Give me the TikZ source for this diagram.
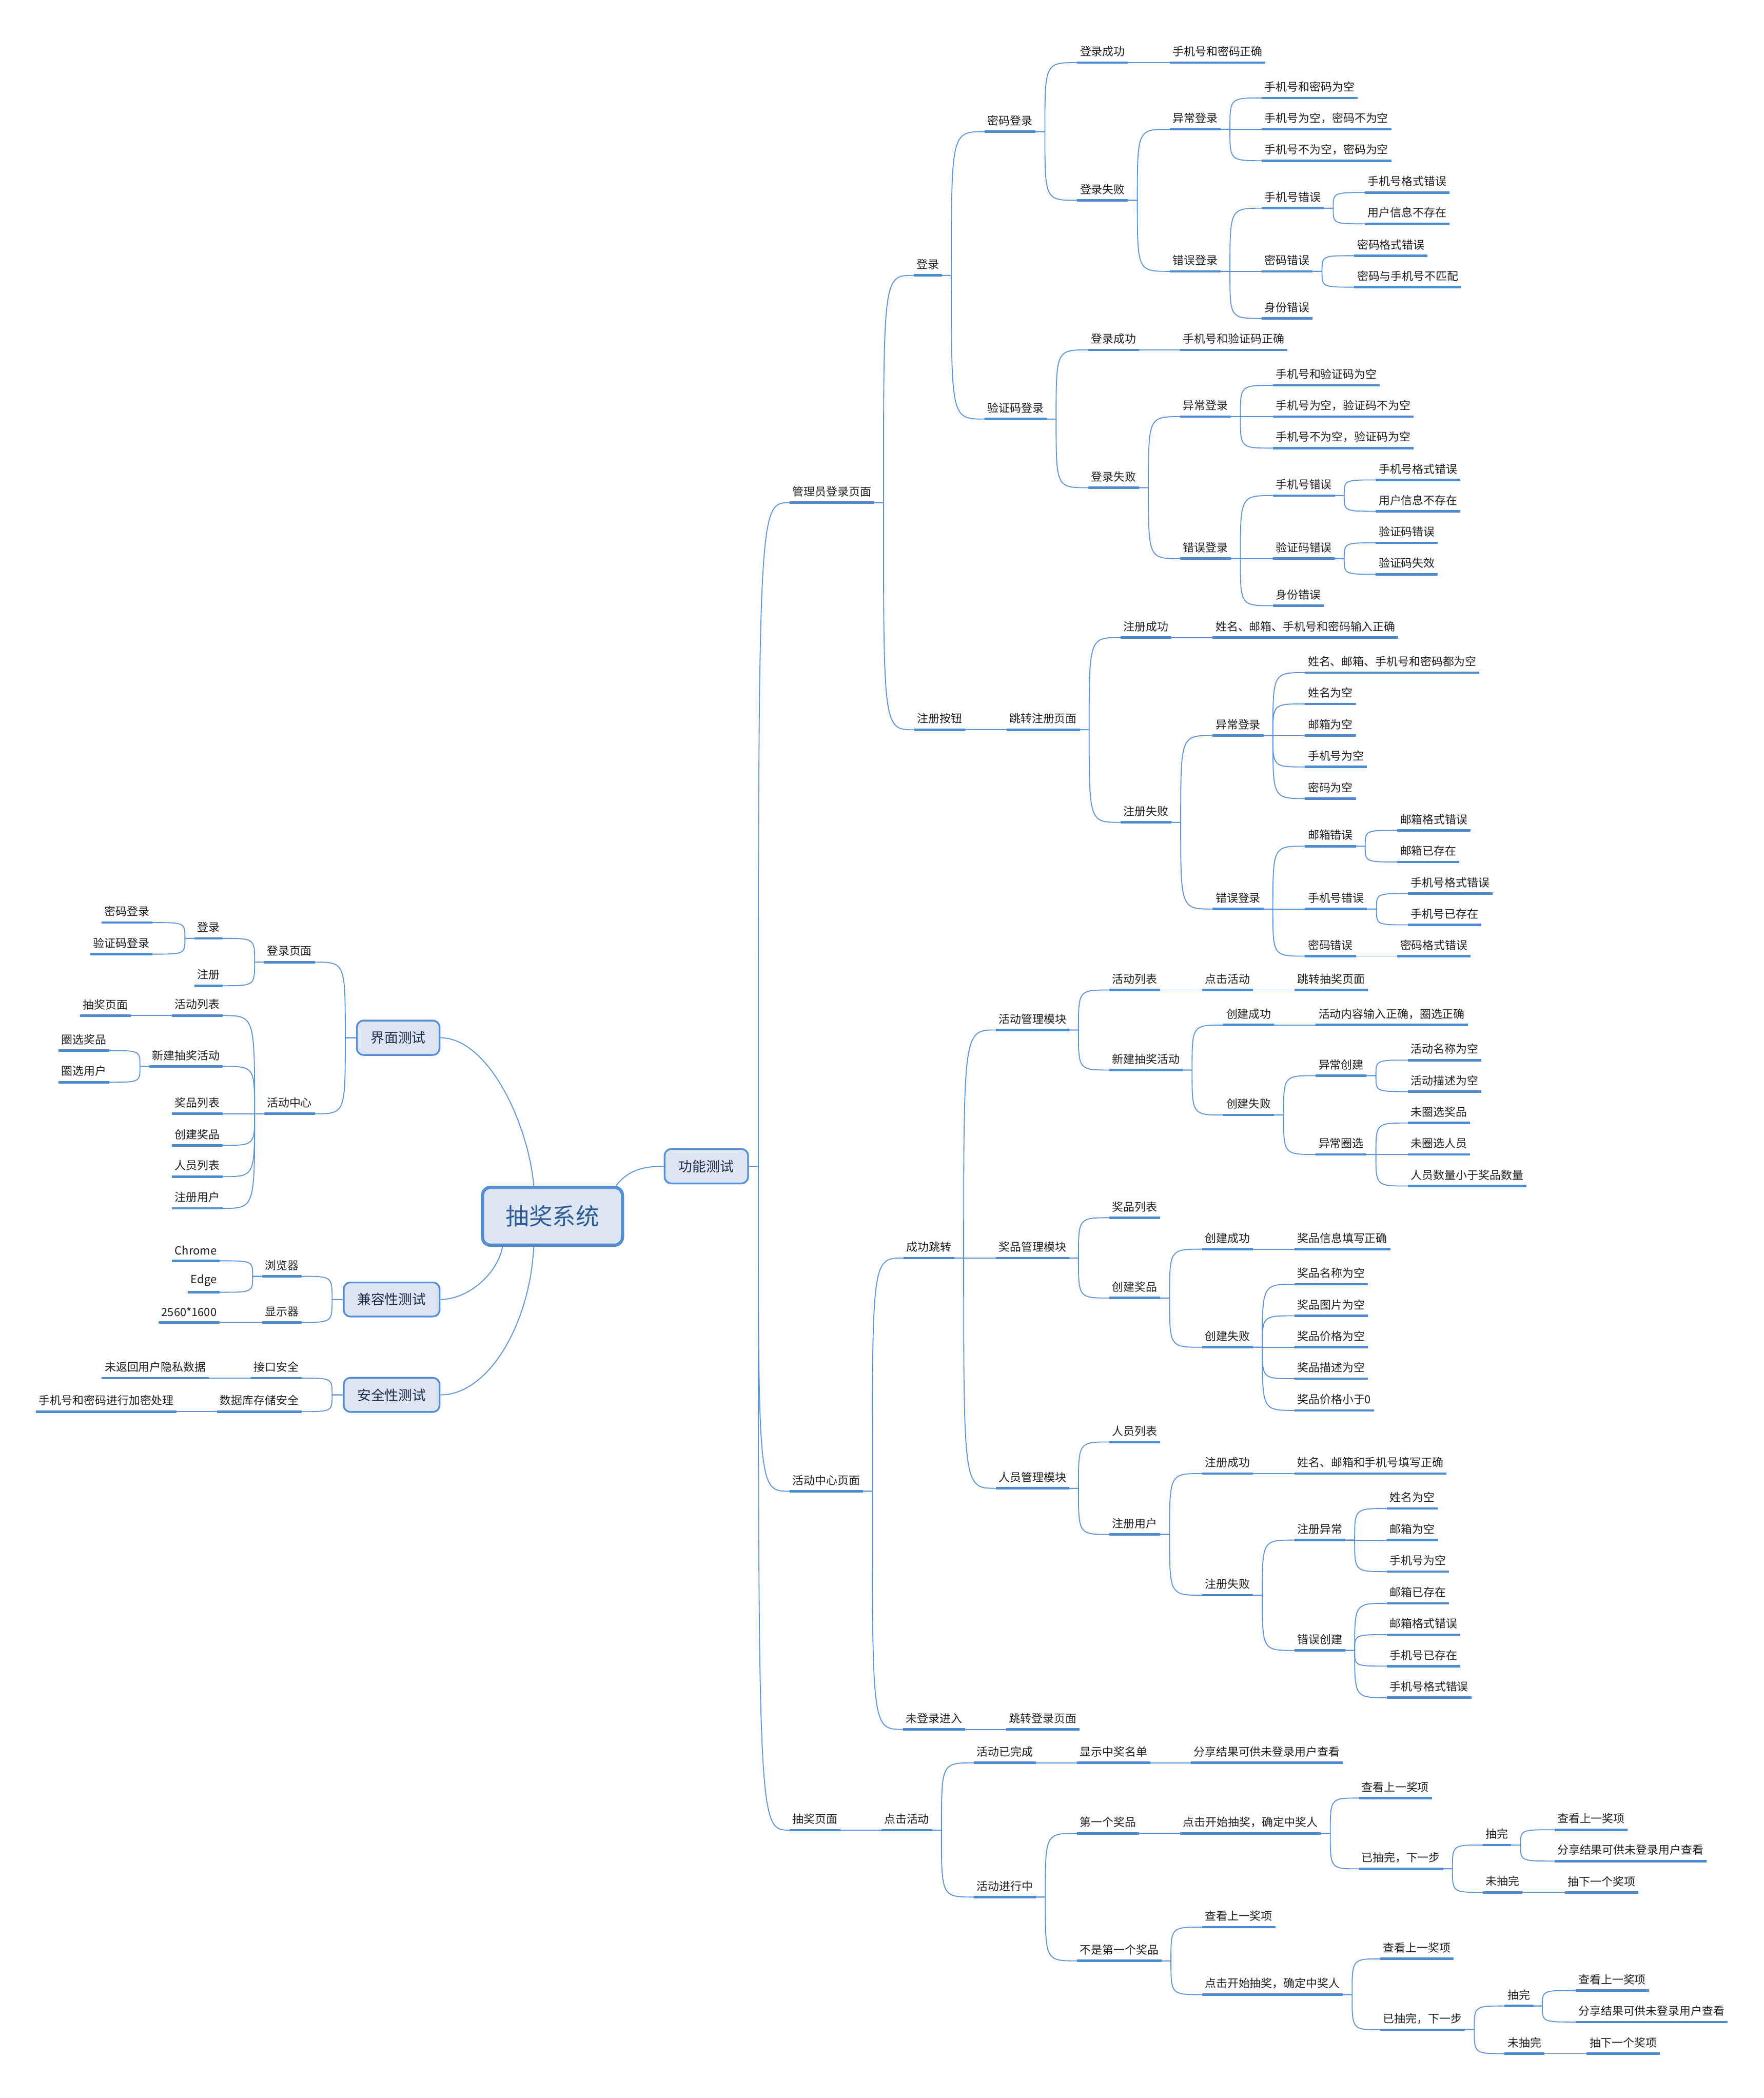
\documentclass[tikz,border=0pt]{standalone}
\usepackage{fontspec}
\setmainfont{Noto Sans CJK SC}
\definecolor{ulc}{RGB}{77,138,212}
\definecolor{lnc}{RGB}{92,146,216}
\definecolor{bxc}{RGB}{86,142,212}
\definecolor{bxf}{RGB}{220,230,242}
\definecolor{bxt}{RGB}{32,44,74}
\definecolor{roott}{RGB}{48,92,150}
\definecolor{txtc}{RGB}{30,30,30}
\tikzset{
  ulst/.style={draw=ulc, line width=1.8pt},
  tp/.style={font=\fontsize{8.4}{10}\selectfont, text=txtc, inner xsep=2pt, inner ysep=4.2pt,
    append after command={(\tikzlastnode.south west) edge[ulst] (\tikzlastnode.south east)}},
  cl/.style={draw=lnc, line width=0.7pt},
  bx/.style={draw=bxc, fill=bxf, rounded corners=5pt, line width=1.3pt, text=bxt,
    font=\fontsize{10.3}{12}\selectfont, inner sep=0pt},
}
\newcommand\rnd[4]{\node[tp,anchor=south west] (#1) at (#2,#3) {#4};}
\newcommand\lnd[4]{\node[tp,anchor=south east] (#1) at (#2,#3) {#4};}
\newcommand\rcon[2]{\draw[cl] (#1.south east) -- ++(7,0) coordinate (j) .. controls (j |- #2.south west) .. (#2.south west);}
\newcommand\lcon[2]{\draw[cl] (#1.south west) -- ++(-7,0) coordinate (j) .. controls (j |- #2.south east) .. (#2.south east);}
\begin{document}
\begin{tikzpicture}[x=1pt,y=-1pt]
\fill[white] (0,0) rectangle (1318,1568);
\useasboundingbox (0,0) rectangle (1318,1568);

% boxes
\node[bx, line width=2.4pt, minimum width=104.6pt, minimum height=43.2pt, rounded corners=6pt,
  font=\fontsize{17.5}{20}\selectfont, text=roott] (root) at (412.9,909) {抽奖系统};
\node[bx, minimum width=62.4pt, minimum height=25.8pt] (F) at (527.9,871.6) {功能测试};
\node[bx, minimum width=61.8pt, minimum height=25.7pt] (I) at (297.6,775.6) {界面测试};
\node[bx, minimum width=71.7pt, minimum height=25.5pt] (C) at (292.7,971.2) {兼容性测试};
\node[bx, minimum width=71.7pt, minimum height=25.5pt] (S) at (292.7,1042.5) {安全性测试};

% ===== right tree =====
\rnd{m1}{590.1}{375.7}{管理员登录页面}
\rnd{m2}{590.1}{1114.5}{活动中心页面}
\rnd{m3}{590.1}{1367.8}{抽奖页面}

\rnd{a1}{682.8}{205.8}{登录}
\rnd{a2}{683.2}{545.4}{注册按钮}
\rnd{b1}{735.9}{98.4}{密码登录}
\rnd{b2}{735.9}{313.2}{验证码登录}
\rnd{c1}{805}{46.8}{登录成功}
\rnd{c2}{805}{149.7}{登录失败}
\rnd{d1}{874.2}{46.8}{手机号和密码正确}
\rnd{d2}{874.2}{96.6}{异常登录}
\rnd{d3}{874.2}{202.8}{错误登录}
\rnd{e1}{943}{73.2}{手机号和密码为空}
\rnd{e2}{943}{96.6}{手机号为空，密码不为空}
\rnd{e3}{943}{120.1}{手机号不为空，密码为空}
\rnd{e4}{943}{155.6}{手机号错误}
\rnd{e5}{943}{202.8}{密码错误}
\rnd{e6}{943}{238.0}{身份错误}
\rnd{f1}{1020}{143.9}{手机号格式错误}
\rnd{f2}{1020}{167.3}{用户信息不存在}
\rnd{f3}{1012.1}{191.1}{密码格式错误}
\rnd{f4}{1012.1}{214.6}{密码与手机号不匹配}

\rnd{g1}{813.3}{261.5}{登录成功}
\rnd{g2}{813.3}{364.5}{登录失败}
\rnd{h1}{882}{261.5}{手机号和验证码正确}
\rnd{h2}{882}{311.4}{异常登录}
\rnd{h3}{882}{417.5}{错误登录}
\rnd{i1}{951.2}{288.0}{手机号和验证码为空}
\rnd{i2}{951.2}{311.4}{手机号为空，验证码不为空}
\rnd{i3}{951.2}{334.9}{手机号不为空，验证码为空}
\rnd{i4}{951.2}{370.4}{手机号错误}
\rnd{i5}{951.2}{417.5}{验证码错误}
\rnd{i6}{951.2}{452.7}{身份错误}
\rnd{k1}{1028.2}{358.7}{手机号格式错误}
\rnd{k2}{1028.2}{382.1}{用户信息不存在}
\rnd{k3}{1028.2}{405.7}{验证码错误}
\rnd{k4}{1028.2}{429.2}{验证码失效}

\rnd{r0}{752.2}{545.4}{跳转注册页面}
\rnd{r1}{837.4}{476.5}{注册成功}
\rnd{r2}{837.4}{614.6}{注册失败}
\rnd{r3}{906.3}{476.5}{姓名、邮箱、手机号和密码输入正确}
\rnd{r4}{906.3}{549.7}{异常登录}
\rnd{r5}{906.3}{679.4}{错误登录}
\rnd{s1}{975.3}{502.7}{姓名、邮箱、手机号和密码都为空}
\rnd{s2}{975.3}{526.1}{姓名为空}
\rnd{s3}{975.3}{549.7}{邮箱为空}
\rnd{s4}{975.3}{573.2}{手机号为空}
\rnd{s5}{975.3}{596.8}{密码为空}
\rnd{s6}{975.3}{632.4}{邮箱错误}
\rnd{s7}{975.3}{679.4}{手机号错误}
\rnd{s8}{975.3}{714.6}{密码错误}
\rnd{t1}{1044.3}{620.6}{邮箱格式错误}
\rnd{t2}{1044.3}{644.2}{邮箱已存在}
\rnd{t3}{1052.3}{667.8}{手机号格式错误}
\rnd{t4}{1052.3}{691.2}{手机号已存在}
\rnd{t5}{1044.3}{714.6}{密码格式错误}

\rnd{n1}{675.2}{940.2}{成功跳转}
\rnd{n2}{674.9}{1292.5}{未登录进入}
\rnd{n3}{752}{1292.5}{跳转登录页面}
\rnd{o1}{744.2}{769.8}{活动管理模块}
\rnd{o2}{744.2}{940.2}{奖品管理模块}
\rnd{o3}{744.2}{1112.3}{人员管理模块}
\rnd{p1}{829.1}{739.9}{活动列表}
\rnd{p2}{829.1}{799.7}{新建抽奖活动}
\rnd{p3}{898.4}{739.9}{点击活动}
\rnd{p4}{967.4}{739.9}{跳转抽奖页面}
\rnd{q1}{914.3}{766.1}{创建成功}
\rnd{q2}{914.3}{833.3}{创建失败}
\rnd{q3}{983.3}{766.1}{活动内容输入正确，圈选正确}
\rnd{q4}{983.3}{803.9}{异常创建}
\rnd{q5}{983.3}{862.8}{异常圈选}
\rnd{u1}{1052.3}{792.3}{活动名称为空}
\rnd{u2}{1052.3}{815.8}{活动描述为空}
\rnd{u3}{1052.3}{839.3}{未圈选奖品}
\rnd{u4}{1052.3}{862.8}{未圈选人员}
\rnd{u5}{1052.3}{886.4}{人员数量小于奖品数量}

\rnd{v1}{829.1}{910.1}{奖品列表}
\rnd{v2}{829.1}{970.1}{创建奖品}
\rnd{v3}{898.4}{933.6}{创建成功}
\rnd{v4}{898.4}{1006.9}{创建失败}
\rnd{v5}{967.4}{933.6}{奖品信息填写正确}
\rnd{w1}{967.4}{959.8}{奖品名称为空}
\rnd{w2}{967.4}{983.4}{奖品图片为空}
\rnd{w3}{967.4}{1006.9}{奖品价格为空}
\rnd{w4}{967.4}{1030.4}{奖品描述为空}
\rnd{w5}{967.4}{1054.1}{奖品价格小于0}

\rnd{x1}{829.1}{1077.7}{人员列表}
\rnd{x2}{829.1}{1146.8}{注册用户}
\rnd{x3}{898.4}{1101.3}{注册成功}
\rnd{x4}{898.4}{1192.2}{注册失败}
\rnd{x5}{967.4}{1101.3}{姓名、邮箱和手机号填写正确}
\rnd{y1}{967.4}{1151.0}{注册异常}
\rnd{y2}{967.4}{1233.5}{错误创建}
\rnd{z1}{1036.4}{1127.4}{姓名为空}
\rnd{z2}{1036.4}{1151.0}{邮箱为空}
\rnd{z3}{1036.4}{1174.6}{手机号为空}
\rnd{z4}{1036.4}{1198.3}{邮箱已存在}
\rnd{z5}{1036.4}{1221.7}{邮箱格式错误}
\rnd{z6}{1036.4}{1245.2}{手机号已存在}
\rnd{z7}{1036.4}{1268.8}{手机号格式错误}

\rnd{L1}{658.6}{1367.8}{点击活动}
\rnd{L2}{727.8}{1317.5}{活动已完成}
\rnd{L3}{727.8}{1417.8}{活动进行中}
\rnd{L4}{804.9}{1317.5}{显示中奖名单}
\rnd{L5}{889.9}{1317.5}{分享结果可供未登录用户查看}
\rnd{L6}{804.9}{1370.2}{第一个奖品}
\rnd{L7}{804.9}{1465.5}{不是第一个奖品}
\rnd{L8}{882}{1370.2}{点击开始抽奖，确定中奖人}
\rnd{L9}{1015.3}{1343.8}{查看上一奖项}
\rnd{L10}{1015.3}{1396.7}{已抽完，下一步}
\rnd{L11}{1108.2}{1378.9}{抽完}
\rnd{L12}{1108.2}{1414.3}{未抽完}
\rnd{L13}{1161.7}{1367.5}{查看上一奖项}
\rnd{L14}{1161.7}{1390.9}{分享结果可供未登录用户查看}
\rnd{L15}{1169.6}{1414.3}{抽下一个奖项}
\rnd{L16}{898.3}{1440.3}{查看上一奖项}
\rnd{L17}{898.3}{1490.7}{点击开始抽奖，确定中奖人}
\rnd{L18}{1031.6}{1464.0}{查看上一奖项}
\rnd{L19}{1031.6}{1517.0}{已抽完，下一步}
\rnd{L20}{1124.5}{1499.2}{抽完}
\rnd{L21}{1124.5}{1534.8}{未抽完}
\rnd{L22}{1177.5}{1487.6}{查看上一奖项}
\rnd{L23}{1177.5}{1511.2}{分享结果可供未登录用户查看}
\rnd{L24}{1185.8}{1534.8}{抽下一个奖项}

% ===== left tree =====
\lnd{lA}{235.3}{719.1}{登录页面}
\lnd{lB}{235.3}{832.4}{活动中心}
\lnd{lC}{166.4}{701.3}{登录}
\lnd{lD}{166.4}{736.7}{注册}
\lnd{lE}{113.9}{689.5}{密码登录}
\lnd{lF}{113.9}{713.1}{验证码登录}
\lnd{lG}{166.4}{759.0}{活动列表}
\lnd{lH}{166.4}{797.0}{新建抽奖活动}
\lnd{lI}{166.4}{832.4}{奖品列表}
\lnd{lJ}{166.4}{856.0}{创建奖品}
\lnd{lK}{166.4}{879.4}{人员列表}
\lnd{lL}{166.4}{903.1}{注册用户}
\lnd{lM}{97.8}{759.0}{抽奖页面}
\lnd{lN}{81.6}{785.2}{圈选奖品}
\lnd{lO}{81.6}{808.8}{圈选用户}
\lnd{cA}{225.4}{953.9}{浏览器}
\lnd{cB}{225.4}{988.3}{显示器}
\lnd{cC}{164.1}{942.3}{Chrome}
\lnd{cD}{164.1}{965.8}{Edge}
\lnd{cE}{164.1}{988.3}{2560*1600}
\lnd{sA}{225.4}{1030.0}{接口安全}
\lnd{sB}{225.4}{1055.0}{数据库存储安全}
\lnd{sC}{156.1}{1030.0}{未返回用户隐私数据}
\lnd{sD}{132.1}{1055.0}{手机号和密码进行加密处理}

% ===== root connectors =====
\draw[cl] ([xshift=-6pt]root.north east) .. controls +(7.6,-10) and +(-18,0) .. (F.west);
\draw[cl] ([xshift=-14pt]root.north) .. controls +(-3.9,-46.2) and +(35.8,0) .. (I.east);
\draw[cl] ([xshift=-37.4pt]root.south) .. controls +(-3.5,20) and +(20.8,0) .. (C.east);
\draw[cl] ([xshift=-14pt]root.south) .. controls +(-2.9,58) and +(35.8,0) .. (S.east);

% box connectors
\foreach \c in {m1,m2,m3}{\draw[cl] (F.east) -- ++(7,0) coordinate (j) .. controls (j |- \c.south west) .. (\c.south west);}
\foreach \c in {lA,lB}{\draw[cl] (I.west) -- ++(-8,0) coordinate (j) .. controls (j |- \c.south east) .. (\c.south east);}
\foreach \c in {cA,cB}{\draw[cl] (C.west) -- ++(-8,0) coordinate (j) .. controls (j |- \c.south east) .. (\c.south east);}
\foreach \c in {sA,sB}{\draw[cl] (S.west) -- ++(-8,0) coordinate (j) .. controls (j |- \c.south east) .. (\c.south east);}

% right connectors
\rcon{m1}{a1}\rcon{m1}{a2}
\rcon{a1}{b1}\rcon{a1}{b2}
\rcon{b1}{c1}\rcon{b1}{c2}
\rcon{c1}{d1}\rcon{c2}{d2}\rcon{c2}{d3}
\rcon{d2}{e1}\rcon{d2}{e2}\rcon{d2}{e3}
\rcon{d3}{e4}\rcon{d3}{e5}\rcon{d3}{e6}
\rcon{e4}{f1}\rcon{e4}{f2}\rcon{e5}{f3}\rcon{e5}{f4}
\rcon{b2}{g1}\rcon{b2}{g2}
\rcon{g1}{h1}\rcon{g2}{h2}\rcon{g2}{h3}
\rcon{h2}{i1}\rcon{h2}{i2}\rcon{h2}{i3}
\rcon{h3}{i4}\rcon{h3}{i5}\rcon{h3}{i6}
\rcon{i4}{k1}\rcon{i4}{k2}\rcon{i5}{k3}\rcon{i5}{k4}
\rcon{a2}{r0}
\rcon{r0}{r1}\rcon{r0}{r2}
\rcon{r1}{r3}\rcon{r2}{r4}\rcon{r2}{r5}
\rcon{r4}{s1}\rcon{r4}{s2}\rcon{r4}{s3}\rcon{r4}{s4}\rcon{r4}{s5}
\rcon{r5}{s6}\rcon{r5}{s7}\rcon{r5}{s8}
\rcon{s6}{t1}\rcon{s6}{t2}\rcon{s7}{t3}\rcon{s7}{t4}\rcon{s8}{t5}

\rcon{m2}{n1}\rcon{m2}{n2}\rcon{n2}{n3}
\rcon{n1}{o1}\rcon{n1}{o2}\rcon{n1}{o3}
\rcon{o1}{p1}\rcon{o1}{p2}\rcon{p1}{p3}\rcon{p3}{p4}
\rcon{p2}{q1}\rcon{p2}{q2}\rcon{q1}{q3}
\rcon{q2}{q4}\rcon{q2}{q5}
\rcon{q4}{u1}\rcon{q4}{u2}
\rcon{q5}{u3}\rcon{q5}{u4}\rcon{q5}{u5}
\rcon{o2}{v1}\rcon{o2}{v2}
\rcon{v2}{v3}\rcon{v2}{v4}\rcon{v3}{v5}
\rcon{v4}{w1}\rcon{v4}{w2}\rcon{v4}{w3}\rcon{v4}{w4}\rcon{v4}{w5}
\rcon{o3}{x1}\rcon{o3}{x2}
\rcon{x2}{x3}\rcon{x2}{x4}\rcon{x3}{x5}
\rcon{x4}{y1}\rcon{x4}{y2}
\rcon{y1}{z1}\rcon{y1}{z2}\rcon{y1}{z3}
\rcon{y2}{z4}\rcon{y2}{z5}\rcon{y2}{z6}\rcon{y2}{z7}

\rcon{m3}{L1}
\rcon{L1}{L2}\rcon{L1}{L3}
\rcon{L2}{L4}\rcon{L4}{L5}
\rcon{L3}{L6}\rcon{L3}{L7}
\rcon{L6}{L8}
\rcon{L8}{L9}\rcon{L8}{L10}
\rcon{L10}{L11}\rcon{L10}{L12}
\rcon{L11}{L13}\rcon{L11}{L14}\rcon{L12}{L15}
\rcon{L7}{L16}\rcon{L7}{L17}
\rcon{L17}{L18}\rcon{L17}{L19}
\rcon{L19}{L20}\rcon{L19}{L21}
\rcon{L20}{L22}\rcon{L20}{L23}\rcon{L21}{L24}

% left connectors
\lcon{lA}{lC}\lcon{lA}{lD}
\lcon{lC}{lE}\lcon{lC}{lF}
\lcon{lB}{lG}\lcon{lB}{lH}\lcon{lB}{lI}\lcon{lB}{lJ}\lcon{lB}{lK}\lcon{lB}{lL}
\lcon{lG}{lM}
\lcon{lH}{lN}\lcon{lH}{lO}
\lcon{cA}{cC}\lcon{cA}{cD}\lcon{cB}{cE}
\lcon{sA}{sC}\lcon{sB}{sD}
\end{tikzpicture}
\end{document}
